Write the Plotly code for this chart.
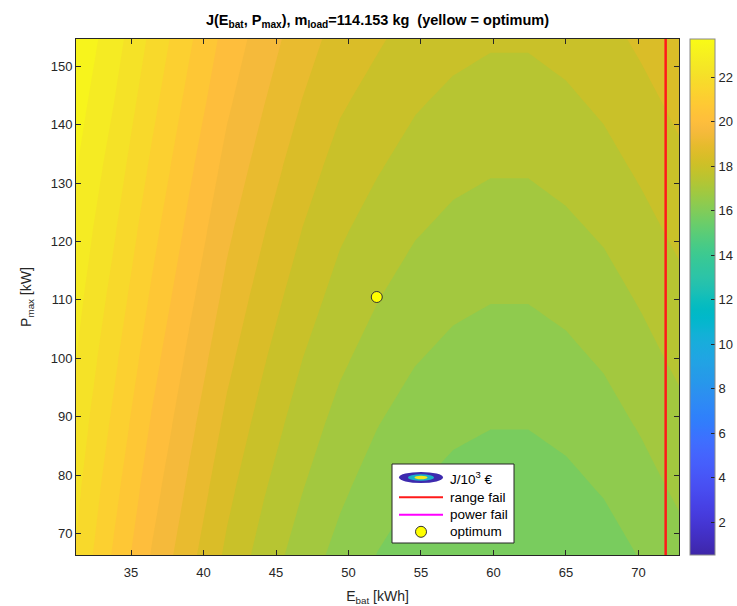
import math
import plotly.graph_objects as go

# ---------------- data ----------------
E_bat = [31.2, 33.8, 36.4, 39.0, 41.6, 44.2, 46.8, 49.4, 52.0, 54.6,
         57.2, 59.8, 62.4, 65.0, 67.6, 70.2, 72.8]           # kWh
P_max = [66.3, 77.35, 88.4, 99.45, 110.5, 121.55, 132.6, 143.65, 154.7]  # kW

# J / 1e3 EUR, one row per P_max value, one column per E_bat value
J = [
    [22.17, 21.08, 20.05, 19.18, 18.37, 17.70, 17.15, 16.70, 16.32, 16.06, 15.89, 15.803, 15.803, 15.91, 16.09, 16.37, 16.68],
    [22.36, 21.32, 20.30, 19.44, 18.62, 17.97, 17.42, 16.97, 16.60, 16.34, 16.16, 16.08, 16.08, 16.19, 16.37, 16.65, 16.96],
    [22.55, 21.56, 20.56, 19.69, 18.88, 18.23, 17.67, 17.22, 16.88, 16.61, 16.44, 16.35, 16.35, 16.46, 16.65, 16.92, 17.23],
    [22.75, 21.80, 20.82, 19.95, 19.14, 18.50, 17.937, 17.49, 17.16, 16.89, 16.72, 16.625, 16.625, 16.74, 16.92, 17.20, 17.51],
    [22.94, 22.04, 21.08, 20.21, 19.40, 18.75, 18.20, 17.75, 17.43, 17.16, 16.99, 16.90, 16.90, 17.01, 17.19, 17.47, 17.78],
    [23.13, 22.28, 21.33, 20.47, 19.65, 19.02, 18.46, 18.01, 17.70, 17.44, 17.27, 17.17, 17.17, 17.29, 17.47, 17.75, 18.06],
    [23.32, 22.52, 21.59, 20.72, 19.91, 19.28, 18.72, 18.27, 17.98, 17.72, 17.54, 17.45, 17.45, 17.57, 17.75, 18.03, 18.34],
    [23.52, 22.76, 21.85, 20.98, 20.17, 19.55, 18.99, 18.54, 18.26, 17.99, 17.82, 17.72, 17.72, 17.84, 18.03, 18.30, 18.61],
    [23.71, 23.00, 22.10, 21.24, 20.42, 19.80, 19.25, 18.80, 18.54, 18.27, 18.10, 18.00, 18.00, 18.12, 18.30, 18.58, 18.89],
]

opt_E = [51.95]
opt_P = [110.5]
range_fail_E = 71.88

c_min, c_max = 0.52, 23.71
lev_start, lev_size, n_lev = 15.8, 0.535, 16
cbar_ticks = [2, 4, 6, 8, 10, 12, 14, 16, 18, 20, 22]
x_ticks = [35, 40, 45, 50, 55, 60, 65, 70]
y_ticks = [70, 80, 90, 100, 110, 120, 130, 140, 150]

# ---------------- parula colormap ----------------
PARULA = [
    [0.2422, 0.1504, 0.6603], [0.2504, 0.1650, 0.7076], [0.2578, 0.1818, 0.7511], [0.2647, 0.1978, 0.7952],
    [0.2706, 0.2147, 0.8364], [0.2751, 0.2342, 0.8710], [0.2783, 0.2559, 0.8991], [0.2803, 0.2782, 0.9221],
    [0.2813, 0.3006, 0.9414], [0.2810, 0.3228, 0.9579], [0.2795, 0.3447, 0.9717], [0.2760, 0.3667, 0.9829],
    [0.2699, 0.3892, 0.9906], [0.2602, 0.4123, 0.9952], [0.2440, 0.4358, 0.9988], [0.2206, 0.4603, 0.9973],
    [0.1963, 0.4847, 0.9892], [0.1834, 0.5074, 0.9798], [0.1786, 0.5289, 0.9682], [0.1764, 0.5499, 0.9520],
    [0.1687, 0.5703, 0.9359], [0.1540, 0.5902, 0.9218], [0.1460, 0.6091, 0.9079], [0.1380, 0.6276, 0.8973],
    [0.1248, 0.6459, 0.8883], [0.1113, 0.6635, 0.8763], [0.0952, 0.6798, 0.8598], [0.0689, 0.6948, 0.8394],
    [0.0297, 0.7082, 0.8163], [0.0036, 0.7203, 0.7917], [0.0067, 0.7312, 0.7660], [0.0433, 0.7411, 0.7394],
    [0.0964, 0.7500, 0.7120], [0.1408, 0.7584, 0.6842], [0.1717, 0.7670, 0.6554], [0.1938, 0.7758, 0.6251],
    [0.2161, 0.7843, 0.5923], [0.2470, 0.7918, 0.5567], [0.2906, 0.7973, 0.5188], [0.3406, 0.8008, 0.4789],
    [0.3909, 0.8029, 0.4354], [0.4456, 0.8024, 0.3909], [0.5044, 0.7993, 0.3480], [0.5616, 0.7942, 0.3045],
    [0.6174, 0.7876, 0.2612], [0.6720, 0.7793, 0.2227], [0.7242, 0.7698, 0.1910], [0.7738, 0.7598, 0.1646],
    [0.8203, 0.7498, 0.1535], [0.8634, 0.7406, 0.1596], [0.9035, 0.7330, 0.1774], [0.9393, 0.7288, 0.2100],
    [0.9728, 0.7298, 0.2394], [0.9956, 0.7434, 0.2371], [0.9970, 0.7659, 0.2199], [0.9952, 0.7893, 0.2028],
    [0.9892, 0.8136, 0.1885], [0.9786, 0.8386, 0.1766], [0.9676, 0.8639, 0.1643], [0.9610, 0.8890, 0.1537],
    [0.9597, 0.9135, 0.1423], [0.9628, 0.9373, 0.1265], [0.9691, 0.9606, 0.1064], [0.9769, 0.9839, 0.0805],
]


def parula_at(f):
    f = min(max(f, 0.0), 1.0)
    pos = f * (len(PARULA) - 1)
    i = min(int(math.floor(pos)), len(PARULA) - 2)
    t = pos - i
    c = [PARULA[i][k] * (1 - t) + PARULA[i + 1][k] * t for k in range(3)]
    return "rgb(%d,%d,%d)" % tuple(round(255 * v) for v in c)


parula_scale = [[i / (len(PARULA) - 1), parula_at(i / (len(PARULA) - 1))] for i in range(len(PARULA))]

lev_end = lev_start + lev_size * (n_lev - 1)
# band between level L and L+size is coloured like MATLAB: colormap value of the lower level L
contour_scale = []
for j in range(n_lev + 1):
    L = lev_start - lev_size + lev_size * j
    contour_scale.append([j / n_lev, parula_at((L - c_min) / (c_max - c_min))])

FONT = "Liberation Sans, Arial, Helvetica, sans-serif"
AX = "#262626"

# pixel frame of the axes box in the 737x606 figure
W, H = 737, 606
PL, PR, PT, PB = 76, 679, 39, 555
PAPER_W = W - PL          # right margin is 0, axes use a domain
PAPER_H = PB - PT


def px(xp):
    return (xp - PL) / PAPER_W


def py(yp):
    return (PB - yp) / PAPER_H


fig = go.Figure()

fig.add_trace(go.Contour(
    x=E_bat, y=P_max, z=J,
    autocontour=False,
    contours=dict(start=lev_start, end=lev_end, size=lev_size, coloring="fill", showlines=False),
    line=dict(width=0, smoothing=0),
    colorscale=contour_scale,
    showscale=False,
    hoverinfo="skip",
))

# continuous colorbar (parula, full colour range)
fig.add_trace(go.Scatter(
    x=[E_bat[0], E_bat[0]], y=[P_max[0], P_max[0]], mode="markers",
    marker=dict(size=1, opacity=0, color=[c_min, c_max], cmin=c_min, cmax=c_max,
                colorscale=parula_scale, showscale=True,
                colorbar=dict(
                    x=px(690), xanchor="left", xpad=0,
                    y=0.5, yanchor="middle", ypad=0,
                    len=PAPER_H, lenmode="pixels", thickness=25, thicknessmode="pixels",
                    tickvals=cbar_ticks, ticks="inside", ticklen=4, tickcolor=AX,
                    tickfont=dict(family=FONT, size=13, color=AX),
                    outlinecolor="#8a8a8a", outlinewidth=1,
                )),
    hoverinfo="skip", showlegend=False,
))

# range-fail boundary
fig.add_trace(go.Scatter(
    x=[range_fail_E, range_fail_E], y=[P_max[0], P_max[-1]], mode="lines",
    line=dict(color="#FF1A1A", width=2.5), showlegend=False, hoverinfo="skip",
))

# optimum
fig.add_trace(go.Scatter(
    x=opt_E, y=opt_P, mode="markers",
    marker=dict(size=11, color="#FFFF00", line=dict(color="#333333", width=1)),
    showlegend=False, hoverinfo="skip",
))

# ---------------- manual legend (MATLAB style) ----------------
shapes = []
annotations = []
shapes.append(dict(type="rect", xref="paper", yref="paper",
                   x0=px(392), x1=px(514), y0=py(543), y1=py(464),
                   fillcolor="white", line=dict(color=AX, width=1), layer="above"))
rows_y = [477.5, 497.3, 514.8, 531.8]
icon_x0, icon_x1, icon_xc, text_x = 399, 443, 421, 448
for hw, hh, col in [(22, 5.5, "#3D2AAE"), (13, 3.3, "#1AB2C8"), (6.5, 1.8, "#F2EA1E")]:
    shapes.append(dict(type="circle", xref="paper", yref="paper",
                       xsizemode="pixel", ysizemode="pixel",
                       xanchor=px(icon_xc), yanchor=py(rows_y[0]),
                       x0=-hw, x1=hw, y0=-hh, y1=hh,
                       fillcolor=col, line=dict(width=0), layer="above"))
shapes.append(dict(type="line", xref="paper", yref="paper",
                   x0=px(icon_x0), x1=px(icon_x1), y0=py(rows_y[1]), y1=py(rows_y[1]),
                   line=dict(color="#FF1A1A", width=2), layer="above"))
shapes.append(dict(type="line", xref="paper", yref="paper",
                   x0=px(icon_x0), x1=px(icon_x1), y0=py(rows_y[2]), y1=py(rows_y[2]),
                   line=dict(color="#FF00FF", width=2), layer="above"))
shapes.append(dict(type="circle", xref="paper", yref="paper",
                   xsizemode="pixel", ysizemode="pixel",
                   xanchor=px(icon_xc), yanchor=py(rows_y[3]),
                   x0=-5.5, x1=5.5, y0=-5.5, y1=5.5,
                   fillcolor="#FFFF00", line=dict(color="#333333", width=1), layer="above"))
legend_texts = ["J/10<sup>3</sup> €", "range fail", "power fail", "optimum"]
for t, yv in zip(legend_texts, rows_y):
    annotations.append(dict(text=t, xref="paper", yref="paper", x=px(text_x), y=py(yv),
                            xanchor="left", yanchor="middle", showarrow=False,
                            font=dict(family=FONT, size=13.5, color="black")))

fig.update_layout(
    width=W, height=H,
    margin=dict(l=PL, r=0, t=PT, b=H - PB, autoexpand=False),
    paper_bgcolor="white", plot_bgcolor="white",
    font=dict(family=FONT, size=13, color=AX),
    title=dict(text="<b>J(E<sub>bat</sub>, P<sub>max</sub>), m<sub>load</sub>=114.153 kg\u00a0\u00a0(yellow = optimum)</b>",
               x=px((PL + PR) / 2), xref="paper", xanchor="center",
               y=1 - 20 / H, yref="container", yanchor="middle",
               font=dict(family=FONT, size=14.5, color="black")),
    xaxis=dict(domain=[0, px(PR)], range=[E_bat[0], E_bat[-1]], tickvals=x_ticks,
               ticks="inside", ticklen=5, automargin=False, ticklabelstandoff=5,
               tickcolor=AX, showline=True, linecolor=AX, linewidth=1, mirror="ticks",
               showgrid=False, zeroline=False,
               tickfont=dict(family=FONT, size=13, color=AX),
               title=dict(text="E<sub>bat</sub> [kWh]", standoff=12,
                          font=dict(family=FONT, size=14, color=AX))),
    yaxis=dict(range=[P_max[0], P_max[-1]], tickvals=y_ticks, ticks="inside", ticklen=5,
               automargin=False,
               tickcolor=AX, showline=True, linecolor=AX, linewidth=1, mirror="ticks",
               showgrid=False, zeroline=False,
               tickfont=dict(family=FONT, size=13, color=AX),
               title=dict(text="P<sub>max</sub> [kW]", standoff=15,
                          font=dict(family=FONT, size=14, color=AX))),
    shapes=shapes, annotations=annotations,
    showlegend=False,
)

fig.write_html("out.html",
               config={"displayModeBar": False},
               post_script="document.body.style.margin='0';document.body.style.overflow='hidden';")
